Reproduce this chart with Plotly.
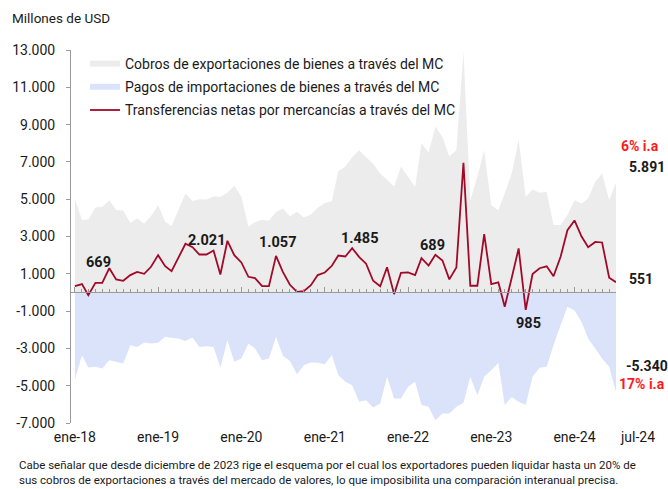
import pandas as pd
import plotly.graph_objects as go

# monthly series, ene-18 .. jul-24 (millones de USD)
months = pd.date_range("2018-01-01", "2024-07-01", freq="MS")

exports = [5040, 3880, 3910, 4560, 4580, 4950, 4420, 4400, 3720, 3980, 3680, 4100,
           4670, 3790, 3560, 4450, 5300, 4900, 5000, 4990, 5150, 5130, 5340, 5720,
           5130, 3520, 3760, 3900, 3850, 4320, 4500, 4090, 4330, 4020, 4180, 4540,
           4800, 4900, 6500, 6750, 7250, 7630, 7250, 6900, 6380, 6040, 5680, 6740,
           6200, 5660, 8000, 7500, 8900, 8340, 7300, 7630, 12900, 4950, 6200, 7630,
           4680, 4410, 5310, 6380, 8200, 5130, 5520, 5340, 5400, 3610, 3610, 4150,
           4950, 4770, 5040, 5930, 6380, 4950, 5891]

imports = [-4700, -3360, -4020, -3990, -4080, -3630, -3720, -3810, -2830, -2920, -2680, -2740,
           -2700, -2380, -2430, -2470, -2600, -2420, -2920, -2880, -2920, -4020, -2560, -3720,
           -3540, -2740, -3000, -3630, -3540, -2380, -3400, -3680, -4380, -3900, -3760, -3770,
           -3850, -3360, -4430, -4790, -4970, -5860, -5780, -6170, -5950, -4520, -5690, -5690,
           -5060, -4790, -6040, -6130, -6850, -6490, -6490, -6130, -5920, -4520, -5510, -4520,
           -4170, -3770, -6040, -5600, -5860, -6040, -4520, -4040, -3990, -2830, -1750, -770,
           -950, -1580, -2470, -3000, -3540, -3990, -5340]

net = [340, 445, -145, 515, 510, 1300, 695, 625, 930, 1105, 1000, 1375,
       2000, 1410, 1140, 1880, 2610, 2430, 2035, 2035, 2250, 965, 2770, 2000,
       1610, 840, 770, 340, 340, 1960, 1105, 410, 30, 70, 390, 930,
       1070, 1430, 1980, 1930, 2370, 1900, 1540, 625, 330, 1355, -90, 1055,
       1080, 930, 1840, 1440, 2020, 1715, 700, 1340, 6950, 360, 360, 3130,
       450, 540, -770, 800, 2360, -930, 990, 1300, 1400, 870, 1910, 3340,
       3860, 3000, 2430, 2710, 2680, 790, 551]

year_ticks = ["2018-01-01", "2019-01-01", "2020-01-01", "2021-01-01",
              "2022-01-01", "2023-01-01", "2024-01-01"]
year_labels = ["ene-18", "ene-19", "ene-20", "ene-21", "ene-22", "ene-23", "ene-24"]

y_ticks = [13000, 11000, 9000, 7000, 5000, 3000, 1000, -1000, -3000, -5000, -7000]
y_labels = ["13.000", "11.000", "9.000", "7.000", "5.000", "3.000", "1.000",
            "-1.000", "-3.000", "-5.000", "-7.000"]

# annual labels (text, x, y)
avg_labels = [("669", "2018-04-15", 1620), ("2.021", "2019-08-01", 2800),
              ("1.057", "2020-06-07", 2700), ("1.485", "2021-06-01", 2910),
              ("689", "2022-04-20", 2540), ("985", "2023-06-13", -1650)]

FONT = "Roboto, 'Open Sans', sans-serif"
GRAY = "#ececec"
BLUE = "#dae3fa"
RED = "#a00a28"
AXIS = "#9a9a9a"
TEXT = "#1a1a1a"
x_range = ["2017-12-15", "2024-07-01"]


def fx(px):
    return (px - 71) / 545


def fy(py):
    return (423 - py) / 373


fig = go.Figure()
fig.add_trace(go.Scatter(
    x=months, y=exports, mode="none", fill="tozeroy", fillcolor=GRAY,
    legendgroup="a", name="Cobros de exportaciones de bienes a través del MC",
    hoverinfo="skip"))
fig.add_trace(go.Scatter(
    x=months, y=imports, mode="none", fill="tozeroy", fillcolor=BLUE,
    legendgroup="b", name="Pagos de importaciones de bienes a través del MC",
    hoverinfo="skip"))
fig.add_trace(go.Scatter(
    x=months, y=net, mode="lines", xaxis="x2", legendgroup="c",
    line=dict(color=RED, width=1.8),
    name="Transferencias netas por mercancías a través del MC"))

annotations = []
for txt, xd, yv in avg_labels:
    annotations.append(dict(x=xd, y=yv, xref="x", yref="y", text=f"<b>{txt}</b>",
                            xanchor="center", yanchor="middle",
                            showarrow=False, font=dict(size=14.5, color=TEXT)))

# right side end labels
annotations += [
    dict(x=fx(619), y=7860, xref="paper", yref="y", text="<b>6% i.a</b>",
         xanchor="left", yanchor="middle", showarrow=False,
         font=dict(size=14, color="#ff1a1a")),
    dict(x=fx(627), y=6720, xref="paper", yref="y", text="<b>5.891</b>",
         xanchor="left", yanchor="middle", showarrow=False,
         font=dict(size=14, color=TEXT)),
    dict(x=fx(627), y=713, xref="paper", yref="y", text="<b>551</b>",
         xanchor="left", yanchor="middle", showarrow=False,
         font=dict(size=14, color=TEXT)),
    dict(x=fx(624), y=-3950, xref="paper", yref="y", text="<b>-5.340</b>",
         xanchor="left", yanchor="middle", showarrow=False,
         font=dict(size=14, color=TEXT)),
    dict(x=fx(617), y=-4915, xref="paper", yref="y", text="<b>17% i.a</b>",
         xanchor="left", yanchor="middle", showarrow=False,
         font=dict(size=14, color="#ff1a1a")),
    dict(x=fx(637), y=fy(437), xref="paper", yref="paper", text="jul-24",
         xanchor="center", yanchor="middle", showarrow=False,
         font=dict(size=14, color=TEXT)),
    dict(x=fx(17), y=fy(456), xref="paper", yref="paper", xanchor="left", yanchor="top",
         align="left", showarrow=False, font=dict(size=11.5, color=TEXT),
         text="Cabe señalar que desde diciembre de 2023 rige el esquema por el cual los exportadores pueden liquidar hasta un 20% de"
              "<br>sus cobros de exportaciones a través del mercado de valores, lo que imposibilita una comparación interanual precisa."),
]

fig.update_layout(
    width=668, height=489,
    margin=dict(l=71, r=52, t=50, b=66),
    paper_bgcolor="white", plot_bgcolor="white",
    font=dict(family=FONT, color=TEXT, size=14),
    title=dict(text="Millones de USD", x=12 / 668, y=1 - 18 / 489,
               xanchor="left", yanchor="middle", font=dict(size=13.5, color=TEXT)),
    showlegend=True,
    legend=dict(x=fx(85), y=fy(48), xanchor="left", yanchor="top",
                bgcolor="rgba(0,0,0,0)", font=dict(size=14, color=TEXT),
                traceorder="grouped", tracegroupgap=2),
    xaxis=dict(type="date", range=x_range, showgrid=False, zeroline=False,
               showline=False, ticks="", tickvals=year_ticks, ticktext=year_labels,
               ticklabelstandoff=4, automargin=False,
               tickfont=dict(size=14, color=TEXT)),
    xaxis2=dict(type="date", range=x_range, overlaying="x", anchor="free",
                position=0.35, showgrid=False, zeroline=False, showline=True,
                linecolor=AXIS, linewidth=1, showticklabels=False,
                ticks="inside", ticklen=5, tickcolor=AXIS, tick0="2018-01-01",
                dtick="M12", automargin=False,
                minor=dict(ticks="inside", ticklen=3, tickcolor=AXIS, dtick="M1",
                           tick0="2018-01-01", showgrid=False)),
    yaxis=dict(range=[-7000, 13000], showgrid=False, zeroline=False,
               showline=True, linecolor=AXIS, linewidth=1,
               ticks="outside", ticklen=4, tickcolor=AXIS, automargin=False,
               tickvals=y_ticks, ticktext=y_labels, ticklabelstandoff=8,
               tickfont=dict(size=14, color=TEXT)),
    annotations=annotations,
)

# drop the browser's default 8px body margin so the 668x489 figure fits the window
fig.write_html("out.html", config={"displayModeBar": False},
               post_script="document.body.style.margin='0';document.body.style.overflow='hidden';")
